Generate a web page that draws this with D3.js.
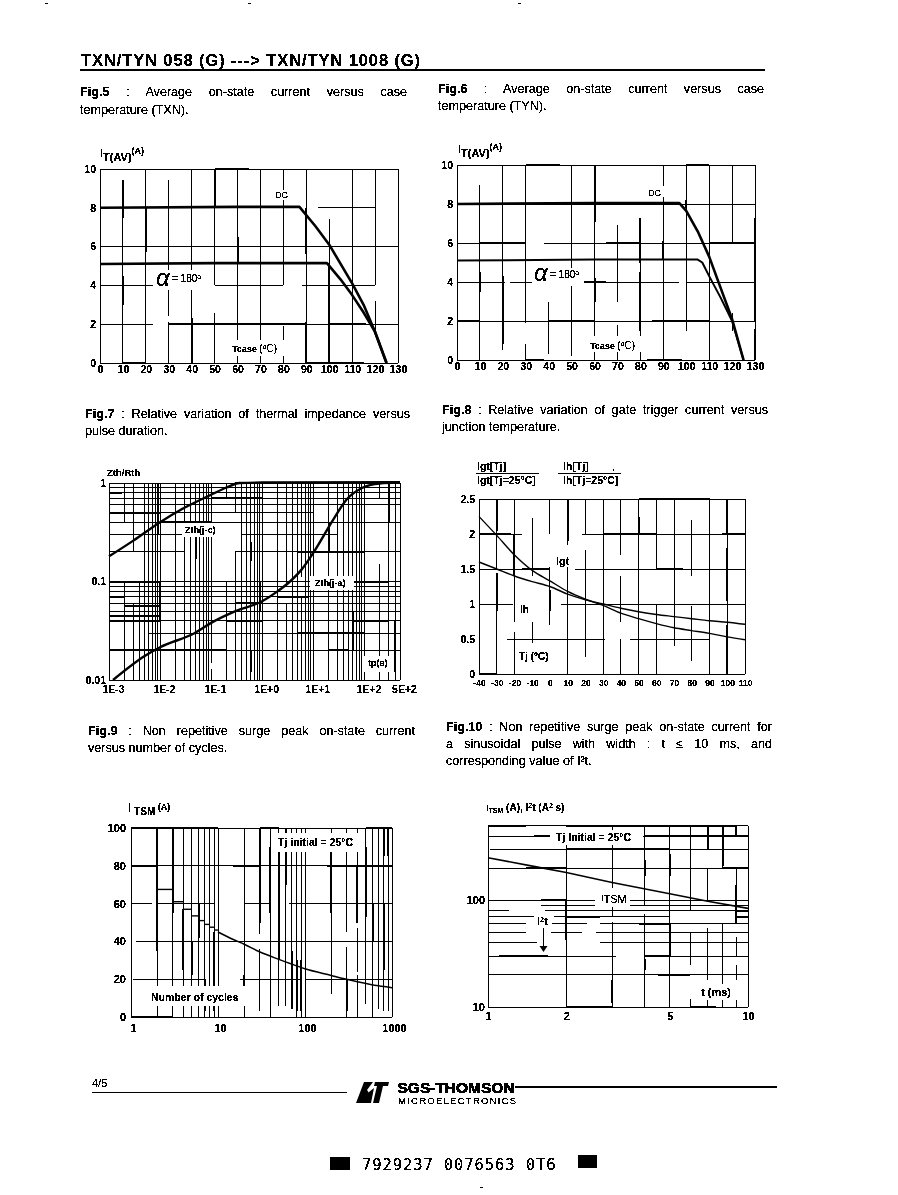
<!DOCTYPE html>
<html><head><meta charset="utf-8">
<script src="https://cdn.jsdelivr.net/npm/d3@7"></script>
<style>
html,body{margin:0;padding:0;background:#fff}
svg{display:block}
text{font-family:"Liberation Sans",Arial,sans-serif;fill:#000;filter:url(#bw)}
</style></head><body>
<svg id="page" width="898" height="1195" viewBox="0 0 898 1195">
<defs><filter id="bw" x="-5%" y="-20%" width="110%" height="140%"><feComponentTransfer><feFuncA type="discrete" tableValues="0 1 1"/></feComponentTransfer></filter></defs>
</svg>
<script>
// ---------- Fig.5 ----------
const fig5XTicks=[0,10,20,30,40,50,60,70,80,90,100,110,120,130];
const fig5YTicks=[0,2,4,6,8,10];
const fig5Dc=[[0,8],[60,8.05],[87,8.05],[94,7.05],[100,6.1],[110,4.1],[115,3],[120,1.6],[125,0]];
const fig5Alpha=[[0,5.1],[50,5.15],[99,5.15],[105,4.3],[110,3.5],[115,2.6],[120,1.6],[125,0]];
const fig5VGaps=[[10,9.45,10],[30,9.45,10],[30,2.1,2.4],[50,2.6,4],[80,1.9,4],[100,7.4,10],[120,3.2,4],[120,0,1.5]];
const fig5HGaps=[[8,87,95],[8,120.5,130],[4,23,50],[4,80,88],[4,120,130],[2,23,30]];
const fig5VThick=[[10,7.5,9.45],[10,3,4.5],[20,5.7,8],[40,0,2.3],[50,8,10],[60,5.1,6.5],[90,5.6,8],[90,0,2.1],[100,0,5.15]];
const fig5HThick=[[2,30,90],[2,100,116],[10,50,65],[0,10,20],[0,90,115]];
// ---------- Fig.6 ----------
const fig6XTicks=fig5XTicks;
const fig6YTicks=fig5YTicks;
const fig6Dc=[[0,8],[60,8.05],[97,8.05],[100,7.65],[105,6.6],[110,5.3],[115,3.7],[120,2.1],[125,0]];
const fig6Alpha=[[0,5.1],[60,5.15],[105,5.15],[107,5],[110,4.3],[115,3.2],[120,2],[125,0]];
const fig6VGaps=[[10,9,10],[30,0.8,1.9],[40,3,10],[20,0,0.5],[40,0,0.3],[50,0,0.2],[70,6.9,10],[80,7.3,10],[70,1.8,3],[100,0,1.5],[120,2.4,6],[120,0,1.5]];
const fig6HGaps=[[4,21,23],[4,48,55],[4,97,100],[6,30,38],[4,35,55]];
const fig6VThick=[[130,2,7.3],[130,0,1.6],[60,7.1,10],[60,3,4.2],[80,1.5,4.5],[80,5,7.3],[20,0.8,4.3],[10,3.5,4.5],[90,5.2,6.1],[100,7.8,8.2]];
const fig6HThick=[[6,10,30],[6,65,80],[6,110,130],[4,55,65],[2,0,10],[2,40,60],[2,85,110],[10,30,45],[10,100,110],[0,30,38],[0,83,98]];
// ---------- Fig.7 ----------
const fig7XLabels=[0.001,0.01,0.1,1,10,100,500];
const fig7XLabelText=["1E-3","1E-2","1E-1","1E+0","1E+1","1E+2","5E+2"];
const fig7YLabels=[0.01,0.1,1];
const fig7YLabelText=["0.01","0.1","1"];
const fig7XGrid=[0.001,0.002,0.003,0.004,0.005,0.006,0.007,0.008,0.009,0.01,0.02,0.03,0.04,0.05,0.06,0.07,0.08,0.09,0.1,0.2,0.3,0.4,0.5,0.6,0.7,0.8,0.9,1,2,3,4,5,6,7,8,9,10,20,30,40,50,60,70,80,90,100,200,300,400,500];
const fig7YGrid=[0.01,0.02,0.03,0.04,0.05,0.06,0.07,0.08,0.09,0.1,0.2,0.3,0.4,0.5,0.6,0.7,0.8,0.9,1];
const fig7Zjc=[[0.001,0.18],[0.003,0.26],[0.01,0.4],[0.03,0.56],[0.1,0.76],[0.2,0.9],[0.36,1],[1,1.01],[500,1.02]];
const fig7Zja=[[0.0012,0.01],[0.005,0.0175],[0.01,0.0215],[0.048,0.03],[0.1,0.038],[0.3,0.05],[1,0.063],[1.9,0.078],[3.5,0.1],[5.9,0.132],[10,0.195],[25,0.43],[45,0.68],[90,0.89],[200,0.99],[500,1.01]];
const fig7HThick=[[1,0.3,500],[0.8,0.001,0.0018],[0.5,0.001,0.01],[0.4,0.01,0.1],[0.7,0.1,1],[0.1,0.001,0.01],[0.07,0.001,0.002],[0.056,0.002,0.01],[0.045,0.001,0.01],[0.04,0.001,0.01],[0.02,0.001,0.2],[0.06,0.3,1],[0.04,0.2,1],[0.02,20,50],[0.03,5,100],[0.04,60,300],[0.2,5,100],[0.07,2,8],[0.1,60,300]];
const fig7VThick=[[0.01,0.04,0.1],[0.009,0.3,1],[0.05,0.17,0.3],[0.6,0.16,0.25],[0.6,0.012,0.02],[0.9,0.05,0.1],[20,0.2,0.4],[60,0.02,0.05],[400,0.012,0.04],[300,0.4,1]];
const fig7VGaps=[[0.004,0.1,1],[0.002,0.1,0.4],[0.003,0.06,0.2],[0.1,0.013,0.015],[0.2,0.1,0.7],[0.3,0.2,0.5],[3,0.06,0.09],[6,0.07,0.11],[200,0.15,0.7]];
const fig7HGaps=[[0.3,0.03,0.4],[0.2,0.03,0.3],[0.03,0.001,0.006],[0.3,30,500],[0.5,10,500],[0.2,500,500]];
// ---------- Fig.8 ----------
const fig8XTicks=[-40,-30,-20,-10,0,10,20,30,40,50,60,70,80,90,100,110];
const fig8YTicks=[0,0.5,1,1.5,2,2.5];
const fig8Igt=[[-40,2.25],[-30,1.98],[-20,1.7],[-10,1.48],[0,1.33],[10,1.18],[20,1.07],[30,0.98],[40,0.87],[50,0.79],[60,0.72],[70,0.66],[80,0.62],[90,0.58],[100,0.53],[110,0.49]];
const fig8Ih=[[-40,1.6],[-30,1.5],[-20,1.4],[-10,1.32],[0,1.25],[10,1.14],[20,1.06],[30,1],[40,0.94],[50,0.89],[60,0.85],[70,0.82],[80,0.79],[90,0.76],[100,0.74],[110,0.71]];
const fig8VGaps=[[-10,2.23,2.5],[-10,0.75,1.4],[-10,0,0.45],[-20,0.6,0.75],[0,1.53,2.0],[0,0,0.7],[10,1.75,1.85],[20,1.77,2],[20,0,0.25],[40,0.5,0.75],[40,1.7,1.4],[60,1,1.5],[70,0.35,0],[70,0.05,0.4],[80,2.2,2.5],[80,0,0.18],[80,0.97,1.4],[-30,1.45,1.5]];
const fig8HGaps=[[1.5,0,14],[1,-21,6.5],[0.5,-40,-24],[0.5,31,45],[0.5,90,110],[2,-16,18]];
const fig8VThick=[[-30,2.05,2.5],[-20,1.4,2],[-30,0.9,1.45],[0,0.9,1.2],[100,0,0.7],[100,1.05,1.8],[100,2,2.5],[10,1.9,2.5],[50,2,2.25]];
const fig8HThick=[[2,-40,-22],[2,30,60],[2,97,110],[1.5,-16,0],[1.5,60,75],[2.5,50,90],[0,-40,-30]];
// ---------- Fig.9 ----------
const fig9XLabels=[1,10,100,1000];
const fig9XLabelText=["1","10","100","1000"];
const fig9XGrid=[1,2,3,4,5,6,7,8,9,10,20,30,40,50,60,70,80,90,100,200,300,400,500,600,700,800,900,1000];
const fig9YTicks=[0,20,40,60,80,100];
const fig9Steps=[[2,67.5],[3,61],[4,57],[5,53.5],[6,51],[7,49],[8,47.5],[9,46]];
const fig9Curve=[[10,45],[15,41],[20,38.5],[30,34.5],[50,30.5],[70,28],[100,25.5],[200,22],[300,20],[400,18.7],[700,16.5],[1000,15.5]];
const fig9VGaps=[[30,44,36],[50,82,88],[200,7,12],[300,37,45],[400,47,55],[50,0,6],[60,0,6],[70,0,4],[700,0,4],[800,0,3],[900,0,3],[30,0,3],[400,22,24],[200,0,7],[500,0,7],[20,15,18]];
const fig9HGaps=[[60,1.75,2],[60,9,20],[60,48,65],[40,1,1.15],[20,1,1.05],[20,7,18],[20,90,100],[60,40,65]];
const fig9VThick=[[2,35,100],[3,55,100],[4,25,57],[5,22,40],[6,42,60],[7,3,20],[9,3,45],[20,20,7],[20,13,22],[30,50,100],[40,55,90],[50,30,90],[60,70,100],[70,4,35],[80,3,30],[90,3,30],[200,55,95],[300,3,20],[400,50,80],[500,53,90],[600,40,60],[800,25,60],[800,85,100],[900,85,100]];
const fig9HThick=[[100,1,10],[100,30,50],[100,500,1000],[80,1,2],[80,15,30],[80,180,1000],[0,1,3]];
// ---------- Fig.10 ----------
const fig10XTicks=[1,2,3,4,5,6,7,8,9,10];
const fig10XLabels=[1,2,5,10];
const fig10YGrid=[10,20,30,40,50,60,70,80,90,100,200,300,400,500];
const fig10YLabels=[10,100];
const fig10Curve=[[1,250],[1.5,208],[2,182],[3,147],[5,115],[7,98],[10,84]];
const fig10VGaps=[[2,500,350],[3,62,70],[3,100,130],[4,75,90],[6,80,50],[6,25,12],[7,200,500],[7,55,100],[7,18,12],[8,60,200],[9,200,500],[9,45,60],[9,30,25],[9,18,14]];
const fig10HGaps=[[90,1,1.6],[80,1.2,1.65],[70,1.5,1.8],[60,1.4,1.75],[50,1.4,1.75],[40,1.55,2.7],[30,3.1,4],[300,1,1.02],[70,5,9],[60,2.4,2.7],[50,2.3,2.6]];
const fig10VThick=[[2,42,100],[3,11,18],[4,22,28],[5,30,60],[5,170,270],[4,170,240],[7,300,500],[8,210,500],[9,60,140],[9,400,500]];
const fig10HThick=[[500,1,1.4],[500,2,9],[400,1.5,2],[400,4,10],[300,2,5],[200,8,10],[200,1.4,2],[70,2,2.7],[60,3.8,5],[30,1.1,1.7],[30,4,5],[20,4.5,6],[10,2,3],[10,6,7.5],[100,1.6,2],[80,9,10],[70,9,10]];
// ---------- text ----------
const titleText="TXN/TYN 058 (G) ---> TXN/TYN 1008 (G)";

const svg=d3.select("#page");
const BOLD="700";

function complement(lo,hi,gaps){
  let out=[],cur=lo;
  gaps.map(g=>[Math.min(g[0],g[1]),Math.max(g[0],g[1])]).sort((a,b)=>a[0]-b[0]).forEach(([a,b])=>{
    if(a>cur)out.push([cur,a]);
    cur=Math.max(cur,b);
  });
  if(cur<hi)out.push([cur,hi]);
  return out;
}

function chart(o){
  const g=svg.append("g");
  const gridG=g.append("g"),boxG=g.append("g"),curveG=g.append("g"),labG=g.append("g");
  const x=o.x,y=o.y;
  const [yLo,yHi]=y.domain(),[xLo,xHi]=x.domain();
  const seg=(p,x1,y1,x2,y2,w)=>p.append("line").attr("x1",x1).attr("y1",y1).attr("x2",x2).attr("y2",y2)
      .attr("stroke","#000").attr("stroke-width",w||1).attr("shape-rendering","crispEdges");
  o.xGrid.forEach(t=>{
    const gaps=(o.vGaps||[]).filter(a=>a[0]===t).map(a=>[a[1],a[2]]);
    complement(yLo,yHi,gaps).forEach(([a,b])=>seg(gridG,x(t),y(a),x(t),y(b)));
  });
  o.yGrid.forEach(t=>{
    const gaps=(o.hGaps||[]).filter(a=>a[0]===t).map(a=>[a[1],a[2]]);
    complement(xLo,xHi,gaps).forEach(([a,b])=>seg(gridG,x(a),y(t),x(b),y(t)));
  });
  (o.vThick||[]).forEach(([t,a,b])=>seg(gridG,x(t),y(a),x(t),y(b),2));
  (o.hThick||[]).forEach(([t,a,b])=>seg(gridG,x(a),y(t),x(b),y(t),2));
  const ax=d3.axisBottom(x).tickValues(o.xLabels).tickSize(0).tickPadding(0)
      .tickFormat((d,i)=>o.xText?o.xText[i]:d);
  const ay=d3.axisLeft(y).tickValues(o.yLabels).tickSize(0).tickPadding(0)
      .tickFormat((d,i)=>o.yText?o.yText[i]:d);
  const axG=labG.append("g").attr("transform",`translate(0,${y.range()[0]+(o.xPad||4)})`).call(ax);
  const ayG=labG.append("g").attr("transform",`translate(${x.range()[0]-(o.yPad||4)},0)`).call(ay);
  [axG,ayG].forEach(a=>{a.select(".domain").remove();a.selectAll("text")
      .style("font-size",(o.tickSize||11)+"px").style("font-weight",BOLD);});
  axG.attr("font-family",null).attr("font-size",null);ayG.attr("font-family",null).attr("font-size",null);
  axG.selectAll("text").attr("dx",(o.xDx||0));
  return {g,gridG,boxG,curveG,labG,x,y,axG,
    curve(data,w,cv){
      curveG.append("path").datum(data).attr("fill","none").attr("stroke","#000").attr("stroke-width",w)
        .attr("stroke-linejoin","round")
        .attr("d",d3.line().x(d=>x(d[0])).y(d=>y(d[1])).curve(cv||d3.curveLinear));
    },
    box(x0,y0,x1,y1){boxG.append("rect").attr("x",x0).attr("y",y0).attr("width",x1-x0).attr("height",y1-y0).attr("fill","#fff");}
  };
}
function txt(parent,x,y,s,size,opt={}){
  const t=parent.append("text").attr("x",x).attr("y",y).style("font-size",size+"px");
  if(opt.bold)t.style("font-weight",BOLD);
  if(opt.anchor)t.attr("text-anchor",opt.anchor);
  if(opt.italic)t.style("font-style","italic");
  if(opt.fam)t.style("font-family",opt.fam);
  if(opt.ls)t.style("letter-spacing",opt.ls+"px");
  if(Array.isArray(s)){
    s.forEach(p=>{const sp=t.append("tspan").text(p.t);
      if(p.dy)sp.attr("dy",p.dy);
      if(p.size)sp.style("font-size",p.size+"px");
      if(p.bold)sp.style("font-weight",BOLD);
    });
  } else t.text(s);
  return t;
}
function justified(x0,x1,y,prefix,rest,size){
  const t=svg.append("text").attr("x",x0).attr("y",y).style("font-size",size+"px");
  t.append("tspan").style("font-weight",BOLD).text(prefix);
  t.append("tspan").text(rest);
  const n=(prefix+rest).trim().split(/\s+/).length-1;
  const w=t.node().getComputedTextLength();
  t.style("word-spacing",((x1-x0-w)/n)+"px");
}
function para(x0,y,s,size){
  svg.append("text").attr("x",x0).attr("y",y).style("font-size",size+"px").text(s);
}

// ---------- header ----------
txt(svg,81,66,titleText,16.5,{bold:true,ls:0.9});
svg.append("line").attr("x1",80).attr("x2",765).attr("y1",70).attr("y2",70).attr("stroke","#000").attr("stroke-width",1.4).attr("shape-rendering","crispEdges");

const S=12.6;
justified(80,407,96,"Fig.5"," : Average on-state current versus case",S);
para(80,114,"temperature (TXN).",S);
justified(438,764,93,"Fig.6"," : Average on-state current versus case",S);
para(438,110,"temperature (TYN).",S);
justified(85,410,418,"Fig.7"," : Relative variation of thermal impedance versus",S);
para(85,435,"pulse duration.",S);
justified(442,768,414,"Fig.8"," : Relative variation of gate trigger current versus",S);
para(442,431,"junction temperature.",S);
justified(88,415,735,"Fig.9"," : Non repetitive surge peak on-state current",S);
para(88,752,"versus number of cycles.",S);
justified(446,772,731,"Fig.10"," : Non repetitive surge peak on-state current for",S);
justified(446,772,748,"","a sinusoidal pulse with width : t ≤ 10 ms, and",S);
para(446,765,"corresponding value of I²t.",S);

const itav=[{t:"I"},{t:"T(AV)",dy:4,size:11,bold:true},{t:"(A)",dy:-7,size:9,bold:true}];

// ---------- Fig.5 ----------
{
  const c=chart({x:d3.scaleLinear([0,130],[100,398]),y:d3.scaleLinear([0,10],[363,169]),
    xGrid:fig5XTicks,yGrid:fig5YTicks,xLabels:fig5XTicks,yLabels:fig5YTicks,
    vGaps:fig5VGaps,hGaps:fig5HGaps,vThick:fig5VThick,hThick:fig5HThick,tickSize:10.5,xPad:3,yPad:4});
  c.curve(fig5Dc,2.6);c.curve(fig5Alpha,2.6);
  c.box(272,190,292,200);c.box(153,270,207,290);c.box(228,340,288,356);
  txt(c.labG,100,157,itav,11);
  txt(c.labG,275,198,"DC",9);
  txt(c.labG,156,286,"α",24,{italic:true});
  txt(c.labG,172,282,[{t:"= 180"},{t:"o",dy:-3,size:7}],10);
  txt(c.labG,232,352,[{t:"Tcase ",bold:true,size:9},{t:"(",size:10},{t:"o",dy:-3,size:7},{t:"C)",dy:3,size:10}],10);
}
// ---------- Fig.6 ----------
{
  const c=chart({x:d3.scaleLinear([0,130],[457,755]),y:d3.scaleLinear([0,10],[360,165]),
    xGrid:fig6XTicks,yGrid:fig6YTicks,xLabels:fig6XTicks,yLabels:fig6YTicks,
    vGaps:fig6VGaps,hGaps:fig6HGaps,vThick:fig6VThick,hThick:fig6HThick,tickSize:10.5,xPad:3,yPad:4});
  c.curve(fig6Dc,2.6);c.curve(fig6Alpha,2);
  c.box(646,186,666,197);c.box(532,268,584,286);c.box(586,336,642,352);
  txt(c.labG,458,153,itav,11);
  txt(c.labG,648,196,"DC",9);
  txt(c.labG,534,281,"α",24,{italic:true});
  txt(c.labG,550,278,[{t:"= 180"},{t:"o",dy:-3,size:7}],10);
  txt(c.labG,590,349,[{t:"Tcase ",bold:true,size:9},{t:"(",size:10},{t:"o",dy:-3,size:7},{t:"C)",dy:3,size:10}],10);
}
// ---------- Fig.7 ----------
{
  const c=chart({x:d3.scaleLog([0.001,500],[109,400]),y:d3.scaleLog([0.01,1],[680,483]),
    xGrid:fig7XGrid,yGrid:fig7YGrid,xLabels:fig7XLabels,xText:fig7XLabelText,yLabels:fig7YLabels,yText:fig7YLabelText,
    vGaps:fig7VGaps,hGaps:fig7HGaps,vThick:fig7VThick,hThick:fig7HThick,tickSize:10.5,xPad:6,yPad:3,xDx:4});
  c.curve(fig7Zjc,2.4,d3.curveMonotoneX);c.curve(fig7Zja,2.4,d3.curveMonotoneX);
  c.box(182,523,229,537);c.box(310,576,354,590);c.box(364,656,394,672);
  txt(c.labG,107,476,"Zth/Rth",9.5,{bold:true});
  txt(c.labG,185,533,"Zth(j-c)",9,{bold:true});
  txt(c.labG,315,586,"Zth(j-a)",9,{bold:true});
  txt(c.labG,368,666,"tp(s)",9,{bold:true});
}
// ---------- Fig.8 ----------
{
  const c=chart({x:d3.scaleLinear([-40,110],[479,745]),y:d3.scaleLinear([0,2.5],[674,499]),
    xGrid:fig8XTicks,yGrid:fig8YTicks,xLabels:fig8XTicks,yLabels:fig8YTicks,
    vGaps:fig8VGaps,hGaps:fig8HGaps,vThick:fig8VThick,hThick:fig8HThick,tickSize:10.5,xPad:6,yPad:4});
  c.curve(fig8Igt,1.4,d3.curveMonotoneX);c.curve(fig8Ih,1.4,d3.curveMonotoneX);
  c.axG.selectAll("text").style("font-size","8.5px");
  c.box(553,552,574,567);c.box(517,602,535,616);c.box(515,648,558,664);
  txt(c.labG,556,565,"Igt",11,{bold:true});
  txt(c.labG,520,613,"Ih",10,{bold:true});
  txt(c.labG,519,660,"Tj (°C)",10,{bold:true});
  txt(c.labG,477,470,"Igt[Tj]",10.5,{bold:true});
  txt(c.labG,477,484,"Igt[Tj=25°C]",10.5,{bold:true});
  txt(c.labG,563,470,"Ih[Tj]",10.5,{bold:true});
  txt(c.labG,563,484,"Ih[Tj=25°C]",10.5,{bold:true});
  txt(c.labG,612,471,".",10.5,{bold:true});
  svg.append("line").attr("x1",476).attr("x2",539).attr("y1",473).attr("y2",473).attr("stroke","#000").attr("shape-rendering","crispEdges");
  svg.append("line").attr("x1",558).attr("x2",621).attr("y1",473).attr("y2",473).attr("stroke","#000").attr("shape-rendering","crispEdges");
}
// ---------- Fig.9 ----------
{
  const c=chart({x:d3.scaleLog([1,1000],[131,392]),y:d3.scaleLinear([0,100],[1017,828]),
    xGrid:fig9XGrid,yGrid:fig9YTicks,xLabels:fig9XLabels,xText:fig9XLabelText,yLabels:fig9YTicks,
    vGaps:fig9VGaps,hGaps:fig9HGaps,vThick:fig9VThick,hThick:fig9HThick,tickSize:11,xPad:7,yPad:5,xDx:2});
  c.curve(fig9Curve,1.5,d3.curveMonotoneX);
  fig9Steps.forEach(([n,v])=>c.curve([[n,v],[n+1,v]],1.4));
  c.box(272,833,365,852);c.box(148,986,250,1006);
  txt(c.labG,128,812,[{t:"I",size:12},{t:" TSM",dy:3,size:10,bold:true},{t:" (A)",dy:-5,size:9,bold:true}],10);
  txt(c.labG,278,846,"Tj initial = 25°C",10.5,{bold:true});
  txt(c.labG,151,1001,"Number of cycles",10.5,{bold:true});
}
// ---------- Fig.10 ----------
{
  const c=chart({x:d3.scaleLog([1,10],[488,748]),y:d3.scaleLog([10,500],[1007,825.7]),
    xGrid:fig10XTicks,yGrid:fig10YGrid,xLabels:fig10XLabels,yLabels:fig10YLabels,
    vGaps:fig10VGaps,hGaps:fig10HGaps,vThick:fig10VThick,hThick:fig10HThick,tickSize:11,xPad:5,yPad:3});
  c.curve(fig10Curve,1.6);
  c.box(550,830,643,845);c.box(595,890,630,907);c.box(534,914,552,928);c.box(700,984,738,1000);
  txt(c.labG,486,811,[{t:"I",size:9},{t:"TSM",dy:2,size:7,bold:true},{t:"  (A), I",dy:-2,size:10,bold:true},{t:"2",dy:-3,size:7,bold:true},{t:"t (A",dy:3,size:10,bold:true},{t:"2",dy:-3,size:7,bold:true},{t:" s)",dy:3,size:10,bold:true}],10);
  txt(c.labG,556,841,"Tj Initial = 25°C",10.5,{bold:true});
  txt(c.labG,601,901,[{t:"I",size:9},{t:"TSM",dy:2,size:11}],11);
  txt(c.labG,537,925,[{t:"I",bold:true},{t:"2",dy:-3,size:7,bold:true},{t:"t",dy:3,bold:true}],11);
  txt(c.labG,701,996,"t (ms)",11,{bold:true});
  const ax=543.5;
  c.curveG.append("line").attr("x1",ax).attr("x2",ax).attr("y1",928).attr("y2",946).attr("stroke","#000").attr("shape-rendering","crispEdges");
  c.curveG.append("path").attr("d",d3.line()([[ax-4,946],[ax+4,946],[ax,952]])).attr("fill","#000");
}
// ---------- footer ----------
txt(svg,92,1087,"4/5",11);
const fl=(x1,x2,y,w)=>svg.append("line").attr("x1",x1).attr("x2",x2).attr("y1",y).attr("y2",y).attr("stroke","#000").attr("stroke-width",w).attr("shape-rendering","crispEdges");
fl(92,347,1092,1);fl(515,777,1087,1.4);
// logo
svg.append("path").attr("d","M364,1082 L373,1082 L367,1090 L372,1097 L369,1103 L356,1103 Z M375,1082 L389,1082 L388,1086 L383,1086 L379,1103 L373,1103 L377,1086 L374,1086 Z").attr("fill","#000");
svg.append("path").attr("d","M369,1092 L374,1088 L371,1103 L369,1103 Z").attr("fill","#000");
txt(svg,397.5,1093,"SGS-THOMSON",15.5,{bold:true}).style("stroke","#000").style("stroke-width","0.4px");
txt(svg,398,1104,"MICROELECTRONICS",9.6,{}).style("letter-spacing","1.2px");
svg.append("rect").attr("x",330).attr("y",1157).attr("width",20).attr("height",13);
svg.append("rect").attr("x",578).attr("y",1155).attr("width",19).attr("height",13);
txt(svg,362,1170,"7929237 0076563 0T6",15.5,{fam:"DejaVu Sans Mono"}).style("letter-spacing","0.9px");
[[45,3],[248,3],[518,3],[480,1187]].forEach(([a,b])=>svg.append("rect").attr("x",a).attr("y",b).attr("width",3).attr("height",1));
</script>
</body></html>
